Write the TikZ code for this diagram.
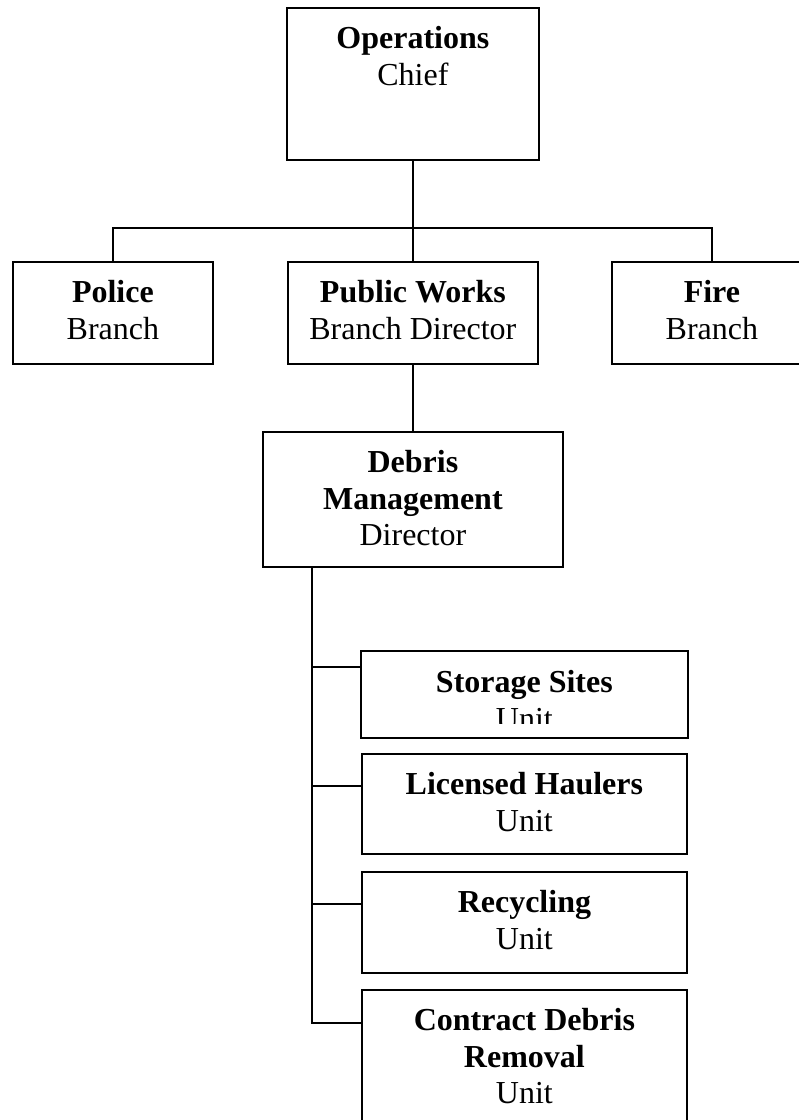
\documentclass[tikz,border=0pt]{standalone}
\usepackage{fontspec}
\setmainfont{Liberation Serif}
\usetikzlibrary{positioning}

\begin{document}
\begin{tikzpicture}[
    x=1pt, y=-1pt,
    box/.style n args={2}{rectangle, draw, line width=1.8pt, inner sep=0pt, anchor=north west,
        execute at begin node={\begin{minipage}[t][#2pt][t]{#1pt}\centering\fontsize{32pt}{36.5pt}\selectfont\rule{0pt}{41pt}},
        execute at end node={\end{minipage}}},
    link/.style={line width=1.8pt}
]
\useasboundingbox (0,0) rectangle (799,1120);
\clip (0,0) rectangle (799,1120);

% chief and branches
\node[box={252}{152}] (ops) at (286,7) {\textbf{Operations}\\Chief};
\node[box={200}{102}] (police) at (12,261) {\textbf{Police}\\Branch};
\node[box={250}{102}] (works) at (287,261) {\textbf{Public Works}\\Branch Director};
\node[box={200}{102}] (fire) at (611,261) {\textbf{Fire}\\Branch};
\node[box={300}{135}] (debris) at (262,431) {\textbf{Debris}\\\textbf{Management}\\Director};

% units
\begin{scope}
  \clip (0,0) rectangle (799,723);
  \node[box={325}{85}, draw=none] (storage) at (361,651) {\textbf{Storage Sites}\\Unit};
\end{scope}
\draw[link] (storage.north west) rectangle (storage.south east);
\node[box={325}{100}] (haulers) at (361,753) {\textbf{Licensed Haulers}\\Unit};
\node[box={325}{101}] (recycling) at (361,871) {\textbf{Recycling}\\Unit};
\node[box={325}{160}] (contract) at (361,989) {\textbf{Contract Debris}\\\textbf{Removal}\\Unit};

% lines
\coordinate (bus) at (ops.south |- 0,228);
\draw[link] (ops.south) -- (bus);
\draw[link] (police.north) |- (bus) -| (fire.north);
\draw[link] (bus) -- (bus |- works.north);
\draw[link] (works.south) -- (works.south |- debris.north);
\coordinate (trunk) at ([xshift=50pt]debris.south west);
\draw[link] (trunk) |- ([yshift=-16pt]storage.north west);
\draw[link] (trunk) |- ([yshift=-33pt]haulers.north west);
\draw[link] (trunk) |- ([yshift=-33pt]recycling.north west);
\draw[link] (trunk) |- ([yshift=-34pt]contract.north west);
\end{tikzpicture}
\end{document}
